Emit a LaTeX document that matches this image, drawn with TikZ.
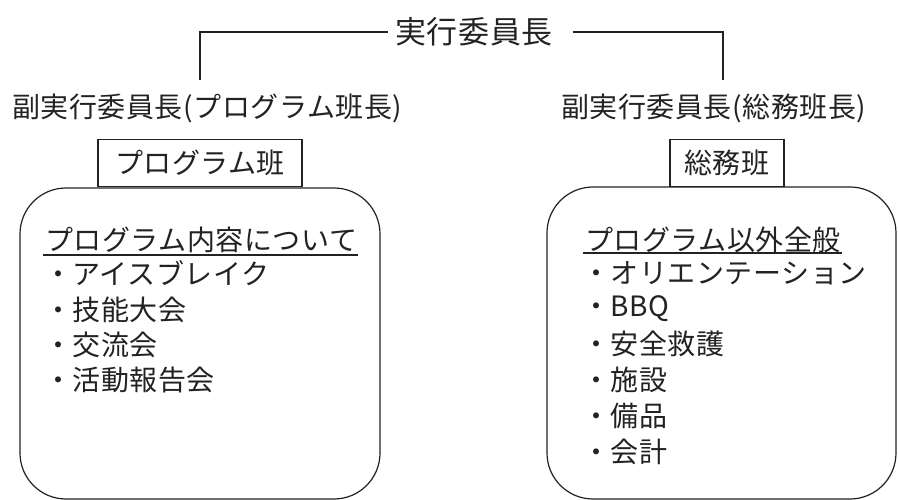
\documentclass[tikz,border=0pt]{standalone}
\usepackage{fontspec}
\newfontfamily\jp[LetterSpace=2]{Noto Sans CJK JP}
\definecolor{ink}{HTML}{222222}
\begin{document}
\begin{tikzpicture}[x=1pt,y=-1pt,
  txt/.style={inner sep=0pt, anchor=west, text=ink, font=\jp\fontsize{28}{32}\selectfont},
  ttl/.style={inner sep=0pt, anchor=west, text=ink, font=\jp\fontsize{31}{35}\selectfont},
  ln/.style={draw=ink, line width=1.2pt},
  hd/.style={inner sep=0pt, minimum width=#1, minimum height=47pt, draw=ink, line width=1.2pt, text=ink, font=\jp\fontsize{28}{32}\selectfont},
  rbox/.style={draw=ink, line width=1.2pt, rounded corners=46pt, inner sep=0pt}]
\useasboundingbox (0,0) rectangle (898,500);
% title and connectors
\node[ttl] (top) at (395,32) {実行委員長};
\coordinate (lend) at (200,80);
\coordinate (rend) at (723,80);
\draw[ln] ([xshift=-7pt]top.west) -| (lend);
\draw[ln] ([xshift=20pt]top.east) -| (rend);
% vice chairs
\node[txt] (lv) at (12,108) {副実行委員長(プログラム班長)};
\node[txt] (rv) at (561,108) {副実行委員長(総務班長)};
% big rounded boxes
\node[rbox, minimum width=360pt, minimum height=311pt] (lbox) at (200,343.5) {};
\node[rbox, minimum width=349pt, minimum height=312pt] (rbx) at (721.5,343) {};
% team boxes
\node[hd=204pt, anchor=south] (lt) at (lbox.north) {プログラム班};
\node[hd=114pt, anchor=south] (rt) at (727,187) {総務班};
% left contents
\node[txt] (lh) at (45,240) {プログラム内容について};
\draw[ink, line width=2pt] ([xshift=-2pt,yshift=-15pt]lh.west) -- ([xshift=1pt,yshift=-15pt]lh.east);
\node[txt] (l1) at (44,273) {・アイスブレイク};
\node[txt] (l2) at (44,310) {・技能大会};
\node[txt] (l3) at (44,345) {・交流会};
\node[txt] (l4) at (44,380) {・活動報告会};
% right contents
\node[txt] (rh) at (585,240) {プログラム以外全般};
\draw[ink, line width=2pt] ([xshift=-2pt,yshift=-13pt]rh.west) -- ([xshift=1pt,yshift=-13pt]rh.east);
\node[txt] (r1) at (582,273) {・オリエンテーション};
\node[txt] (r2) at (582,309) {・BBQ};
\node[txt] (r3) at (582,344) {・安全救護};
\node[txt] (r4) at (582,380) {・施設};
\node[txt] (r5) at (582,416) {・備品};
\node[txt] (r6) at (582,452) {・会計};
\end{tikzpicture}
\end{document}
